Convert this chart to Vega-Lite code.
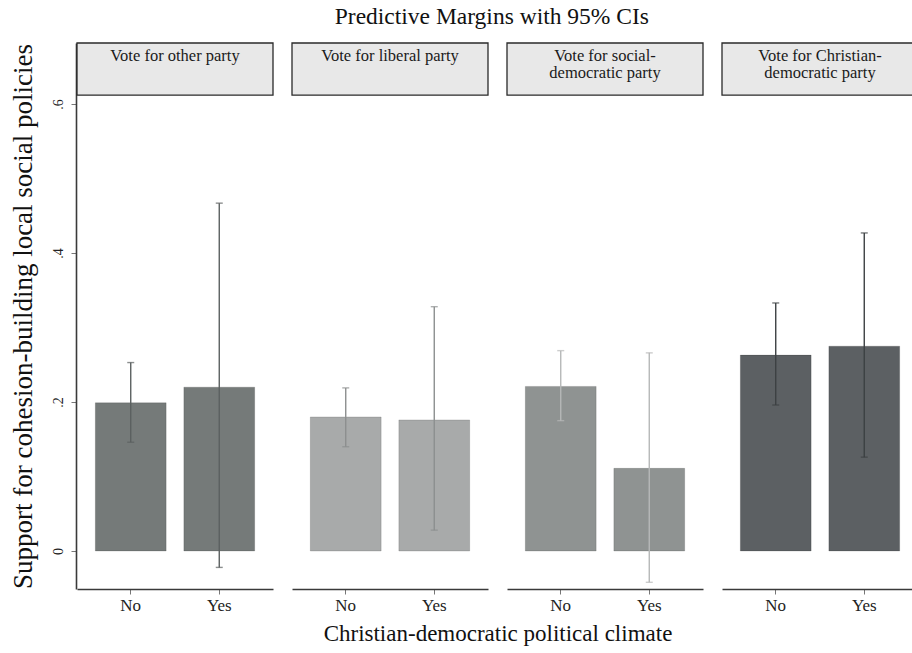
{
  "$schema": "https://vega.github.io/schema/vega-lite/v6.json",
  "padding": {"left": 8, "top": 4, "right": 0, "bottom": 2},
  "background": "white",
  "title": {
    "text": "Predictive Margins with 95% CIs",
    "font": "Liberation Serif",
    "fontSize": 23.5,
    "fontWeight": "normal",
    "color": "#111",
    "anchor": "middle",
    "dx": 28,
    "offset": 14
  },
  "data": {
    "values": [
      {"party": "other", "label": "Vote for other party", "climate": "No", "mean": 0.199, "lo": 0.146, "hi": 0.253},
      {"party": "other", "label": "Vote for other party", "climate": "Yes", "mean": 0.220, "lo": -0.022, "hi": 0.467},
      {"party": "liberal", "label": "Vote for liberal party", "climate": "No", "mean": 0.180, "lo": 0.140, "hi": 0.219},
      {"party": "liberal", "label": "Vote for liberal party", "climate": "Yes", "mean": 0.176, "lo": 0.028, "hi": 0.328},
      {"party": "socdem", "label": "Vote for social-\ndemocratic party", "climate": "No", "mean": 0.221, "lo": 0.175, "hi": 0.269},
      {"party": "socdem", "label": "Vote for social-\ndemocratic party", "climate": "Yes", "mean": 0.111, "lo": -0.042, "hi": 0.266},
      {"party": "christdem", "label": "Vote for Christian-\ndemocratic party", "climate": "No", "mean": 0.263, "lo": 0.196, "hi": 0.333},
      {"party": "christdem", "label": "Vote for Christian-\ndemocratic party", "climate": "Yes", "mean": 0.275, "lo": 0.126, "hi": 0.427}
    ]
  },
  "facet": {
    "column": {
      "field": "party",
      "type": "nominal",
      "sort": ["other", "liberal", "socdem", "christdem"],
      "header": {
        "labels": false,
        "title": "Christian-democratic political climate",
        "titleOrient": "bottom",
        "titleFont": "Liberation Serif",
        "titleFontSize": 23,
        "titleFontWeight": "normal",
        "titleColor": "#111",
        "titlePadding": 0
      }
    }
  },
  "spacing": {"column": 17},
  "spec": {
    "width": 196,
    "height": 546,
    "layer": [
      {
        "transform": [{"filter": "datum.climate == 'No'"}],
        "mark": {"type": "rect", "fill": "#e8e8e8", "stroke": "#2a2a2a", "strokeWidth": 1.3},
        "encoding": {
          "y": {
            "datum": 0.612,
            "type": "quantitative",
            "scale": {"domain": [-0.051, 0.682], "nice": false, "zero": false},
            "axis": {
              "title": "Support for cohesion-building local social policies",
              "values": [0, 0.2, 0.4, 0.6],
              "labelExpr": "datum.value == 0 ? '0' : replace(format(datum.value, '.1f'), '0.', '.')"
            }
          },
          "y2": {"datum": 0.682}
        }
      },
      {
        "transform": [{"filter": "datum.climate == 'No'"}],
        "mark": {
          "type": "text",
          "font": "Liberation Serif",
          "fontSize": 16.5,
          "lineHeight": 17,
          "lineBreak": "\n",
          "baseline": "top",
          "align": "center",
          "color": "#1a1a1a"
        },
        "encoding": {
          "y": {
            "datum": 0.675,
            "type": "quantitative",
            "axis": {
              "title": "Support for cohesion-building local social policies",
              "values": [0, 0.2, 0.4, 0.6],
              "labelExpr": "datum.value == 0 ? '0' : replace(format(datum.value, '.1f'), '0.', '.')"
            }
          },
          "text": {"field": "label"}
        }
      },
      {
        "mark": {"type": "bar", "stroke": "#000", "strokeOpacity": 0.14, "strokeWidth": 1},
        "encoding": {
          "x": {
            "field": "climate",
            "type": "nominal",
            "sort": ["No", "Yes"],
            "scale": {"paddingInner": 0.2, "paddingOuter": 0.207},
            "axis": {"title": null, "labelAngle": 0}
          },
          "y": {
            "field": "mean",
            "type": "quantitative",
            "axis": {
              "title": "Support for cohesion-building local social policies",
              "values": [0, 0.2, 0.4, 0.6],
              "labelExpr": "datum.value == 0 ? '0' : replace(format(datum.value, '.1f'), '0.', '.')"
            }
          },
          "y2": {"datum": 0},
          "fill": {
            "field": "party",
            "type": "nominal",
            "scale": {
              "domain": ["other", "liberal", "socdem", "christdem"],
              "range": ["#757a79", "#a8aaaa", "#8f9392", "#5c6063"]
            },
            "legend": null
          }
        }
      },
      {
        "mark": {"type": "rule", "strokeWidth": 1.4},
        "encoding": {
          "x": {"field": "climate", "type": "nominal", "sort": ["No", "Yes"], "axis": {"title": null, "labelAngle": 0}},
          "y": {
            "field": "lo",
            "type": "quantitative",
            "axis": {
              "title": "Support for cohesion-building local social policies",
              "values": [0, 0.2, 0.4, 0.6],
              "labelExpr": "datum.value == 0 ? '0' : replace(format(datum.value, '.1f'), '0.', '.')"
            }
          },
          "y2": {"field": "hi"},
          "color": {
            "field": "party",
            "type": "nominal",
            "scale": {
              "domain": ["other", "liberal", "socdem", "christdem"],
              "range": ["#5b6060", "#8c8f8f", "#b6b8b8", "#3d4143"]
            },
            "legend": null
          }
        }
      },
      {
        "mark": {"type": "tick", "orient": "horizontal", "size": 7, "thickness": 1.4},
        "encoding": {
          "x": {"field": "climate", "type": "nominal", "sort": ["No", "Yes"], "axis": {"title": null, "labelAngle": 0}},
          "y": {
            "field": "lo",
            "type": "quantitative",
            "axis": {
              "title": "Support for cohesion-building local social policies",
              "values": [0, 0.2, 0.4, 0.6],
              "labelExpr": "datum.value == 0 ? '0' : replace(format(datum.value, '.1f'), '0.', '.')"
            }
          },
          "color": {"field": "party", "type": "nominal", "legend": null}
        }
      },
      {
        "mark": {"type": "tick", "orient": "horizontal", "size": 7, "thickness": 1.4},
        "encoding": {
          "x": {"field": "climate", "type": "nominal", "sort": ["No", "Yes"], "axis": {"title": null, "labelAngle": 0}},
          "y": {
            "field": "hi",
            "type": "quantitative",
            "axis": {
              "title": "Support for cohesion-building local social policies",
              "values": [0, 0.2, 0.4, 0.6],
              "labelExpr": "datum.value == 0 ? '0' : replace(format(datum.value, '.1f'), '0.', '.')"
            }
          },
          "color": {"field": "party", "type": "nominal", "legend": null}
        }
      }
    ]
  },
  "config": {
    "view": {"stroke": null},
    "axis": {
      "grid": false,
      "domainColor": "#3a3a3a",
      "domainWidth": 1.6,
      "tickColor": "#777",
      "tickSize": 5,
      "labelFont": "Liberation Serif",
      "labelColor": "#222",
      "titleFont": "Liberation Serif",
      "titleColor": "#111",
      "titleFontWeight": "normal"
    },
    "axisX": {"labelFontSize": 17, "labelPadding": 3},
    "axisY": {
      "labelFontSize": 14,
      "labelAngle": -90,
      "labelAlign": "center",
      "labelBaseline": "bottom",
      "labelPadding": 6,
      "titleFontSize": 27,
      "titlePadding": 14
    }
  }
}
